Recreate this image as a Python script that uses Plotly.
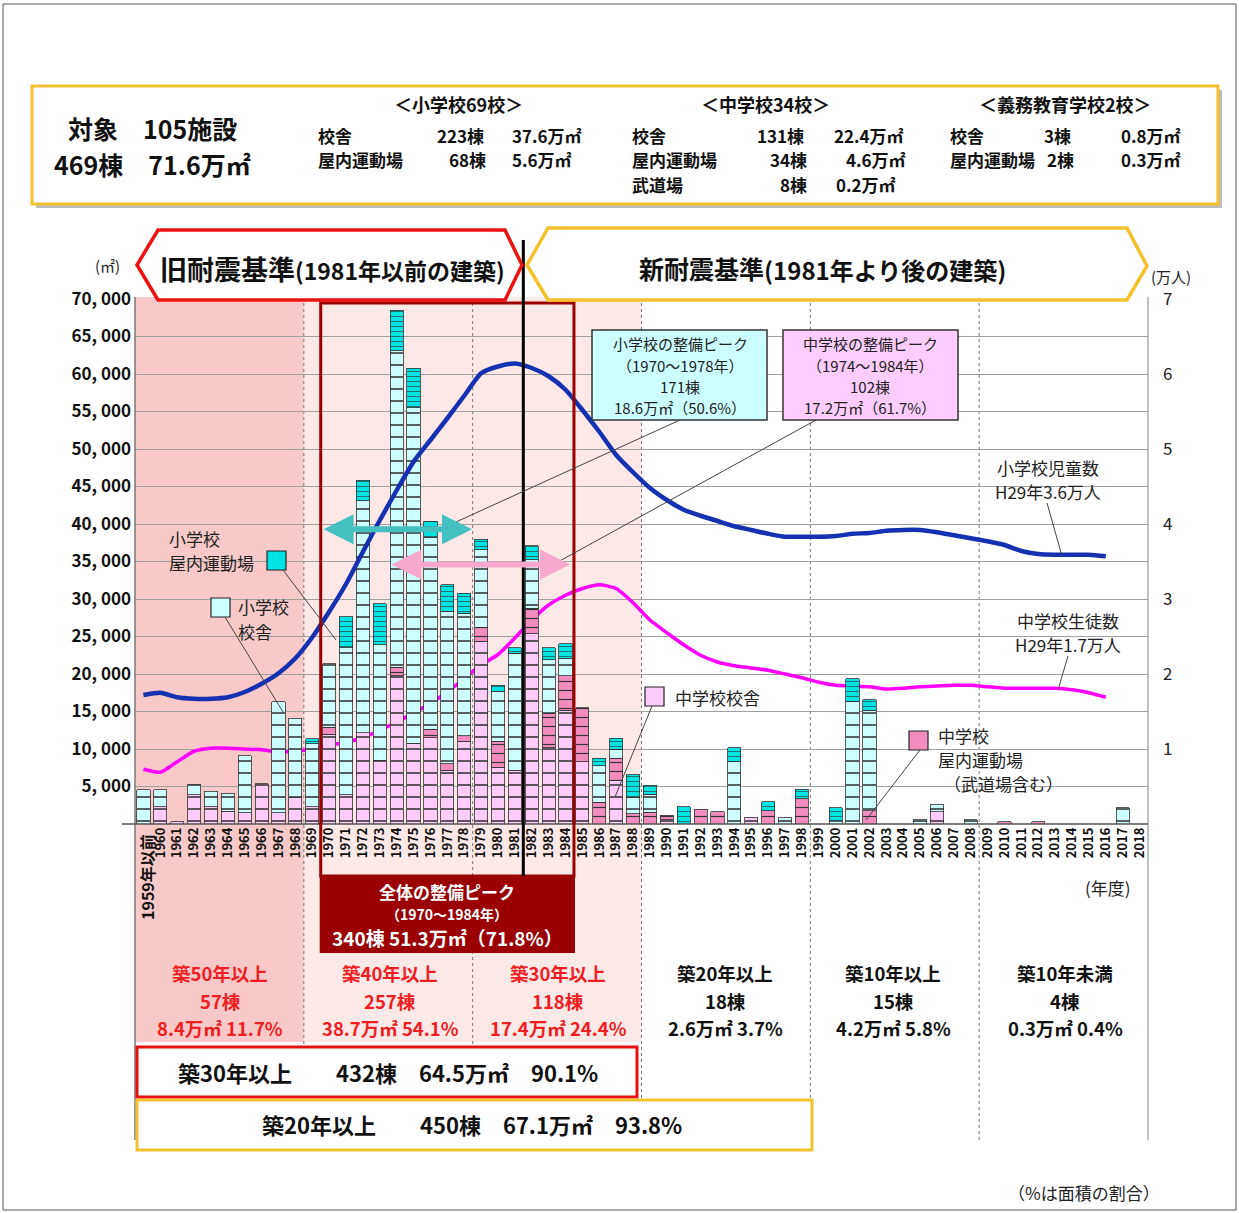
import plotly.graph_objects as go

W, H = 1239, 1213
def X(p): return p / W
def Y(p): return 1 - p / H

categories = ["1959年以前", "1960", "1961", "1962", "1963", "1964", "1965", "1966", "1967", "1968",
              "1969", "1970", "1971", "1972", "1973", "1974", "1975", "1976", "1977", "1978",
              "1979", "1980", "1981", "1982", "1983", "1984", "1985", "1986", "1987", "1988",
              "1989", "1990", "1991", "1992", "1993", "1994", "1995", "1996", "1997", "1998",
              "1999", "2000", "2001", "2002", "2003", "2004", "2005", "2006", "2007", "2008",
              "2009", "2010", "2011", "2012", "2013", "2014", "2015", "2016", "2017", "2018"]

# floor area (m2) per construction year
ms_bldg = [0, 2300, 300, 3900, 2300, 1700, 1500, 5400, 1500, 3500,
           2300, 12000, 3900, 12200, 8500, 19800, 10800, 11500, 7150, 11050,
           24400, 7600, 7150, 25350, 10150, 15200, 8300, 0, 5800, 0,
           0, 600, 0, 0, 0, 0, 900, 0, 0, 0,
           0, 0, 0, 0, 0, 0, 0, 1650, 0, 0,
           0, 0, 0, 0, 0, 0, 0, 0, 0, 0]
ms_gym = [0, 0, 0, 0, 0, 0, 0, 0, 0, 0,
          0, 900, 0, 0, 0, 1100, 0, 1150, 900, 700,
          1850, 3450, 0, 3450, 4600, 4600, 7200, 2900, 2950, 1400,
          1550, 600, 0, 1950, 1650, 0, 0, 1750, 0, 3350,
          0, 0, 0, 1800, 0, 0, 0, 0, 0, 0,
          0, 300, 0, 300, 0, 0, 0, 0, 0, 0]
es_bldg = [4600, 2300, 0, 1400, 2100, 2400, 7600, 0, 14800, 10600,
           8400, 8500, 19600, 30900, 15400, 42200, 44700, 25600, 20300, 16350,
           10350, 6650, 15650, 6450, 7150, 2300, 0, 4900, 1250, 2200,
           2450, 0, 0, 0, 0, 8300, 0, 0, 850, 0,
           0, 450, 16400, 13400, 0, 0, 550, 900, 0, 600,
           0, 0, 0, 0, 0, 0, 0, 0, 2200, 0]
es_gym = [0, 0, 0, 0, 0, 0, 0, 0, 0, 0,
          700, 0, 4150, 2750, 5500, 5400, 5300, 2100, 3550, 2700,
          1400, 800, 700, 1850, 1600, 1950, 0, 1000, 1450, 3000,
          1200, 0, 2300, 0, 0, 1900, 0, 1250, 0, 1300,
          0, 1700, 2950, 1350, 0, 0, 0, 0, 0, 0,
          0, 0, 0, 0, 0, 0, 0, 0, 0, 0]

# pupils (万人)
es_pupils = [1.72, 1.75, 1.69, 1.67, 1.67, 1.69, 1.76, 1.87, 2.01, 2.21,
             2.49, 2.83, 3.20, 3.63, 4.05, 4.45, 4.83, 5.12, 5.41, 5.71,
             6.01, 6.10, 6.14, 6.08, 5.97, 5.79, 5.52, 5.23, 4.92, 4.69,
             4.48, 4.32, 4.19, 4.11, 4.04, 3.97, 3.92, 3.87, 3.83, 3.83,
             3.83, 3.84, 3.87, 3.88, 3.91, 3.92, 3.92, 3.89, 3.85, 3.81,
             3.77, 3.72, 3.64, 3.60, 3.59, 3.59, 3.59, 3.57, None, None]
ms_pupils = [0.73, 0.69, 0.83, 0.97, 1.01, 1.01, 1.00, 0.99, 0.96, 0.97,
             1.00, 1.05, 1.09, 1.15, 1.25, 1.36, 1.48, 1.61, 1.76, 1.94,
             2.12, 2.26, 2.48, 2.72, 2.92, 3.05, 3.14, 3.19, 3.14, 2.95,
             2.72, 2.55, 2.39, 2.25, 2.16, 2.11, 2.08, 2.05, 2.00, 1.95,
             1.89, 1.85, 1.84, 1.83, 1.80, 1.81, 1.83, 1.84, 1.85, 1.85,
             1.83, 1.81, 1.81, 1.81, 1.81, 1.79, 1.75, 1.69, None, None]

left_tickvals = [5000, 10000, 15000, 20000, 25000, 30000, 35000, 40000, 45000, 50000, 55000, 60000, 65000, 70000]
left_ticktext = ["5, 000", "10, 000", "15, 000", "20, 000", "25, 000", "30, 000", "35, 000",
                 "40, 000", "45, 000", "50, 000", "55, 000", "60, 000", "65, 000", "70, 000"]
right_tickvals = [1, 2, 3, 4, 5, 6, 7]
right_ticktext = ["1", "2", "3", "4", "5", "6", "7"]

C_MSB = "#FFCCFA"
C_MSG = "#F28CBE"
C_ESB = "#CCFFFF"
C_ESG = "#00E3E3"

FONT = "Noto Sans CJK JP"

fig = go.Figure()

def add_bar(name, vals, color, psize):
    fig.add_trace(go.Bar(
        x=categories, y=[v if v else None for v in vals], name=name, yaxis="y2",
        marker=dict(color=color, line=dict(color="#333", width=0.8),
                    pattern=dict(shape="-", size=psize, solidity=0.13,
                                 fgcolor="#333", bgcolor=color, fillmode="replace")),
        showlegend=False))

# magenta line first (main axis, drawn behind bars)
fig.add_trace(go.Scatter(x=categories, y=ms_pupils, yaxis="y", mode="lines",
                         line=dict(color="#FF00FF", width=3.5, shape="spline", smoothing=0.5),
                         showlegend=False))
add_bar("中学校校舎", ms_bldg, C_MSB, 12)
add_bar("中学校屋内運動場", ms_gym, C_MSG, 9)
add_bar("小学校校舎", es_bldg, C_ESB, 12)
add_bar("小学校屋内運動場", es_gym, C_ESG, 5)
fig.add_trace(go.Scatter(x=categories, y=es_pupils, yaxis="y3", mode="lines",
                         line=dict(color="#1530B0", width=4.5, shape="spline", smoothing=0.6),
                         showlegend=False))

shapes = []
ann = []

def R(x0, y0, x1, y1, line="#000", lw=1, fill=None, layer="above", dash=None):
    d = dict(type="rect", xref="paper", yref="paper", x0=X(x0), y0=Y(y0), x1=X(x1), y1=Y(y1),
             line=dict(color=line, width=lw), layer=layer)
    if dash:
        d["line"]["dash"] = dash
    if fill:
        d["fillcolor"] = fill
    if lw == 0:
        d["line"] = dict(width=0)
    shapes.append(d)

def L(x0, y0, x1, y1, color="#444", lw=1, dash=None, layer="above"):
    d = dict(type="line", xref="paper", yref="paper", x0=X(x0), y0=Y(y0), x1=X(x1), y1=Y(y1),
             line=dict(color=color, width=lw), layer=layer)
    if dash:
        d["line"]["dash"] = dash
    shapes.append(d)

def P(pts, color, lw, fill="white"):
    path = "M " + " L ".join(f"{X(a):.5f},{Y(b):.5f}" for a, b in pts) + " Z"
    shapes.append(dict(type="path", xref="paper", yref="paper", path=path,
                       line=dict(color=color, width=lw), fillcolor=fill, layer="above"))

def T(text, x, y, size=17, color="#111", bold=False, xa="center", ya="middle", angle=0, align="center"):
    ann.append(dict(text=(f"<b>{text}</b>" if bold else text), x=X(x), y=Y(y), xref="paper", yref="paper",
                    showarrow=False, xanchor=xa, yanchor=ya, textangle=angle, align=align,
                    font=dict(size=size, color=color, family=FONT)))

def TL(lines, x, y0, dy, size, color="#111", bold=False, xa="center"):
    for i, t in enumerate(lines):
        T(t, x, y0 + i * dy, size, color, bold, xa=xa, align=("left" if xa == "left" else "center"))

# background shading by building age
shapes.append(dict(type="rect", xref="x", yref="paper", x0=-0.5, x1=9.5, y0=Y(1042), y1=Y(297),
                   fillcolor="#F9C9C9", line=dict(width=0), layer="below"))
shapes.append(dict(type="rect", xref="x", yref="paper", x0=9.5, x1=29.5, y0=Y(1042), y1=Y(297),
                   fillcolor="#FDE8E8", line=dict(width=0), layer="below"))
for b in [9.5, 19.5, 29.5, 39.5, 49.5]:
    shapes.append(dict(type="line", xref="x", yref="paper", x0=b, x1=b, y0=Y(1140), y1=Y(297),
                       line=dict(color="#777", width=1, dash="dot"), layer="below"))

# frame lines
L(135, 297, 135, 1140, "#777", 1.5)
L(1148, 297, 1148, 1140, "#999", 1.2)
L(122, 824, 1148, 824, "#555", 1.5)

# overall peak rectangle
shapes.append(dict(type="rect", xref="x", yref="paper", x0=10.5, x1=25.5, y0=Y(876), y1=Y(303),
                   line=dict(color="#9B0000", width=3), layer="above"))
shapes.append(dict(type="rect", xref="x", yref="paper", x0=10.5, x1=25.5, y0=Y(952), y1=Y(876),
                   line=dict(color="#9B0000", width=2), fillcolor="#9B0000", layer="above"))
shapes.append(dict(type="line", xref="x", yref="paper", x0=22.5, x1=22.5, y0=Y(876), y1=Y(240),
                   line=dict(color="#000", width=3), layer="above"))

# top summary box
R(36, 90, 1222, 208, line="#BBBBBB", lw=0, fill="#BDBDBD")
R(32, 86, 1218, 204, line="#F2C12E", lw=3, fill="white")

T("対象　105施設", 152, 128, 25, bold=True)
T("469棟　71.6万㎡", 152, 164, 25, bold=True)
S = 17
T("＜小学校69校＞", 458, 104, 18, bold=True)
TL(["校舎", "屋内運動場"], 316, 135, 24.5, S, bold=True, xa="left")
T("223棟", 460, 135, S, bold=True)
T("68棟", 467, 159.5, S, bold=True)
TL(["37.6万㎡", "5.6万㎡"], 510, 135, 24.5, S, bold=True, xa="left")
T("＜中学校34校＞", 765, 104, 18, bold=True)
TL(["校舎", "屋内運動場", "武道場"], 630, 135, 24.5, S, bold=True, xa="left")
T("131棟", 780, 135, S, bold=True)
T("34棟", 788, 159.5, S, bold=True)
T("8棟", 793, 184, S, bold=True)
T("22.4万㎡", 869, 135, S, bold=True)
T("4.6万㎡", 876, 159.5, S, bold=True)
T("0.2万㎡", 866, 184, S, bold=True)
T("＜義務教育学校2校＞", 1065, 104, 18, bold=True)
TL(["校舎", "屋内運動場"], 948, 135, 24.5, S, bold=True, xa="left")
T("3棟", 1057, 135, S, bold=True)
T("2棟", 1060, 159.5, S, bold=True)
TL(["0.8万㎡", "0.3万㎡"], 1151, 135, 24.5, S, bold=True)

# header arrows
P([(137, 265), (158, 230), (505, 230), (522, 265), (505, 300), (158, 300)], "#EE1111", 3.5)
P([(527, 265), (548, 228), (1127, 228), (1147, 266), (1127, 300), (548, 300)], "#F5C02A", 3.5)
T("旧耐震基準", 297, 268, 27, bold=True, xa="right")
T("(1981年以前の建築)", 293, 270, 23, bold=True, xa="left")
T("新耐震基準", 766, 268, 25, bold=True, xa="right")
T("(1981年より後の建築)", 762, 269, 24, bold=True, xa="left")
T("(㎡)", 108, 266, 15, "#222")
T("(万人)", 1171, 276, 15, "#222")

# callout boxes
R(592, 330, 767, 420, line="#333", lw=1.5, fill="#CCFFFF")
TL(["小学校の整備ピーク", "（1970～1978年）", "171棟", "18.6万㎡（50.6%）"], 680, 344, 21, 15, "#222")
R(783, 330, 958, 420, line="#333", lw=1.5, fill="#FFCCFF")
TL(["中学校の整備ピーク", "（1974～1984年）", "102棟", "17.2万㎡（61.7%）"], 870, 344, 21, 15, "#222")
L(680, 420, 445, 527, "#444", 1)
L(816, 420, 556, 563, "#444", 1)

# legend-like labels
R(267, 551, 286, 570, line="#222", lw=1.2, fill=C_ESG)
TL(["小学校", "屋内運動場"], 167, 538, 24, 17, "#222", xa="left")
L(283, 570, 336, 640, "#444", 1)
R(211, 598, 230, 617, line="#222", lw=1.2, fill=C_ESB)
TL(["小学校", "校舎"], 236, 607, 24, 17, "#222", xa="left")
L(225, 617, 283, 712, "#444", 1)
R(645, 687, 664, 706, line="#222", lw=1.2, fill=C_MSB)
T("中学校校舎", 673, 697, 17, "#222", xa="left")
L(652, 706, 615, 797, "#444", 1)
R(909, 731, 928, 750, line="#222", lw=1.2, fill=C_MSG)
T("中学校", 936, 735, 17, "#222", xa="left")
T("屋内運動場", 936, 759, 17, "#222", xa="left")
T("（武道場含む）", 942, 783, 17, "#222", xa="left")
L(920, 750, 866, 820, "#444", 1)

TL(["小学校児童数", "H29年3.6万人"], 1048, 467, 24, 17, "#222")
L(1047, 503, 1062, 556, "#444", 1)
TL(["中学校生徒数", "H29年1.7万人"], 1068, 620, 24, 17, "#222")
L(1068, 656, 1058, 690, "#444", 1)

T("(年度)", 1108, 887, 17, "#222")
T("1959年以前", 147, 877, 16, "#111", bold=True, angle=-90)

# overall peak text
T("全体の整備ピーク", 447, 892, 17, "white", bold=True)
T("（1970～1984年）", 447, 914, 14, "white", bold=True)
T("340棟 51.3万㎡（71.8%）", 447, 937, 19, "white", bold=True)

# bottom age table
RED = "#F01E1E"
cols = [(220, ["築50年以上", "57棟", "8.4万㎡ 11.7%"], RED),
        (390, ["築40年以上", "257棟", "38.7万㎡ 54.1%"], RED),
        (558, ["築30年以上", "118棟", "17.4万㎡ 24.4%"], RED),
        (725, ["築20年以上", "18棟", "2.6万㎡ 3.7%"], "#111"),
        (893, ["築10年以上", "15棟", "4.2万㎡ 5.8%"], "#111"),
        (1065, ["築10年未満", "4棟", "0.3万㎡ 0.4%"], "#111")]
for cx, lines, col in cols:
    TL(lines, cx, 973, 27.5, 18.5, col, bold=True)

R(137, 1047, 637, 1097, line="#E81010", lw=3, fill="white")
T("築30年以上　　432棟　64.5万㎡　90.1%", 388, 1072, 22, "#111", bold=True)
R(137, 1100, 812, 1150, line="#F2C12E", lw=3, fill="white")
T("築20年以上　　450棟　67.1万㎡　93.8%", 472, 1124, 22, "#111", bold=True)
T("（%は面積の割合）", 1084, 1192, 17, "#222")

# outer frame
R(3, 4, 1236, 1210, line="#555", lw=1)

# double arrows (peak periods)
ann.append(dict(x=19.46, y=39300, ax=10.58, ay=39300, xref="x", yref="y2", axref="x", ayref="y2",
                text="", showarrow=True, arrowhead=2, arrowside="end+start", arrowwidth=6,
                arrowsize=1, arrowcolor="#45BFBF"))
ann.append(dict(x=25.27, y=34600, ax=14.6, ay=34600, xref="x", yref="y2", axref="x", ayref="y2",
                text="", showarrow=True, arrowhead=2, arrowside="end+start", arrowwidth=6,
                arrowsize=1, arrowcolor="#F7A8CC"))

fig.update_layout(
    width=W, height=H, margin=dict(l=0, r=0, t=0, b=0, autoexpand=False),
    paper_bgcolor="white", plot_bgcolor="rgba(0,0,0,0)",
    font=dict(family=FONT, color="#111"),
    barmode="stack", bargap=0.22, showlegend=False,
    xaxis=dict(domain=[X(135), X(1148)], type="category", range=[-0.5, 59.5],
               tickmode="array", tickvals=categories, ticktext=[""] + categories[1:],
               tickangle=-90, tickfont=dict(size=13, color="#111", weight="bold"),
               showgrid=False, showline=False, zeroline=False, ticks="", automargin=False),
    yaxis=dict(domain=[Y(824), Y(299)], range=[0, 7], side="right", anchor="x",
               tickmode="array", tickvals=right_tickvals, ticktext=right_ticktext,
               tickfont=dict(size=17, color="#222"), showgrid=False, zeroline=False,
               showline=False, ticks="", ticklabelstandoff=14, automargin=False),
    yaxis2=dict(overlaying="y", side="left", anchor="x", range=[0, 70000],
                tickmode="array", tickvals=left_tickvals, ticktext=left_ticktext,
                tickfont=dict(size=17, color="#111", weight="bold"),
                showgrid=True, gridcolor="#A0A0A0", gridwidth=1, zeroline=False,
                showline=False, ticks="", ticklabelstandoff=3, automargin=False),
    yaxis3=dict(overlaying="y", range=[0, 7], visible=False, anchor="x"),
    shapes=shapes, annotations=ann,
)

post = ("var gd=document.getElementById('{plot_id}');"
        "gd.style.position='absolute';gd.style.left='0px';gd.style.top='0px';"
        "document.body.style.margin='0';document.body.style.overflow='hidden';")
fig.write_html("out.html", config={"displayModeBar": False}, post_script=post)
